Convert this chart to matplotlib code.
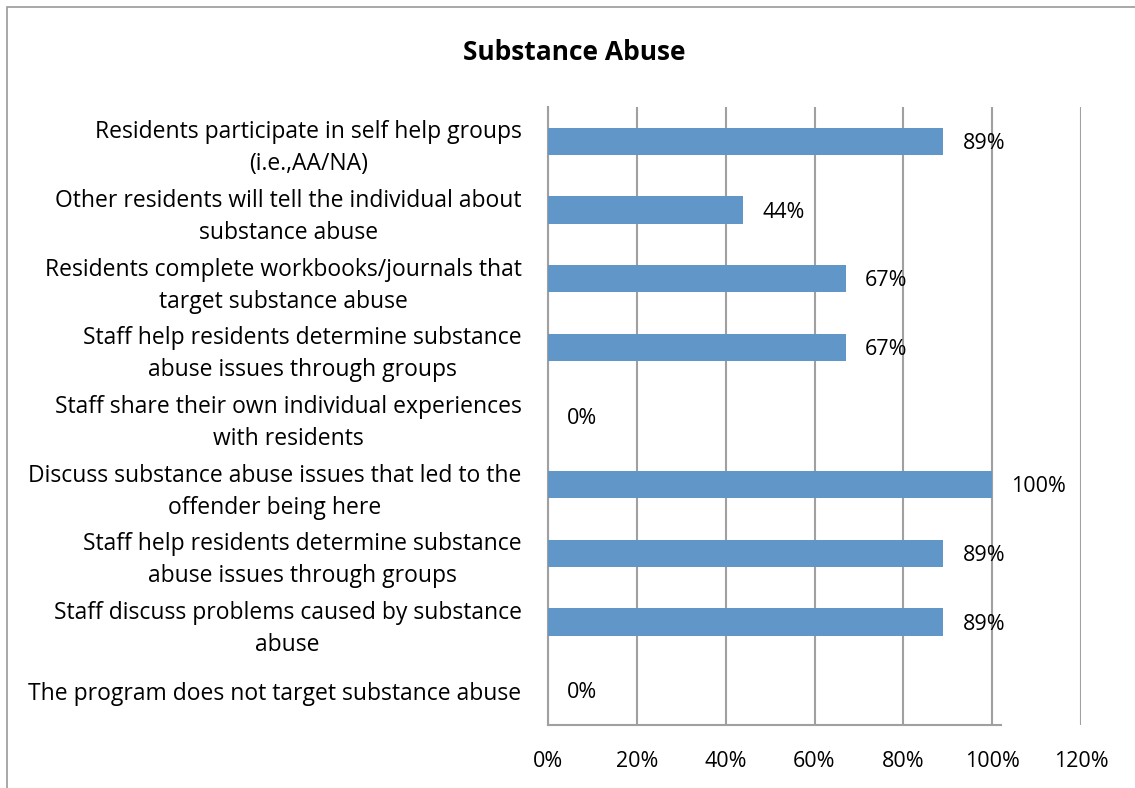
import matplotlib
matplotlib.use("Agg")
import matplotlib.pyplot as plt
from matplotlib.patches import Rectangle

# データ（上から順）
categories = [
    "Residents participate in self help groups\n(i.e.,AA/NA)",
    "Other residents will tell the individual about\nsubstance abuse",
    "Residents complete workbooks/journals that\ntarget substance abuse",
    "Staff help residents determine substance\nabuse issues through groups",
    "Staff share their own individual experiences\nwith residents",
    "Discuss substance abuse issues that led to the\noffender being here",
    "Staff help residents determine substance\nabuse issues through groups",
    "Staff discuss problems caused by substance\nabuse",
    "The program does not target substance abuse",
]
values = [89, 44, 67, 67, 0, 100, 89, 89, 0]
x_ticks = [0, 20, 40, 60, 80, 100, 120]
x_tick_labels = ["0%", "20%", "40%", "60%", "80%", "100%", "120%"]

plt.rcParams["font.family"] = ["Open Sans", "DejaVu Sans"]

W, H = 1135, 788
fig = plt.figure(figsize=(W / 100, H / 100), dpi=100)
ax = fig.add_axes([548 / W, 1 - 725 / H, (1081 - 548) / W, (725 - 107) / H])

y = list(range(len(categories)))
ax.barh(y, values, height=0.4, color="#6196c9", edgecolor="none", zorder=3)
for yi, v in zip(y, values):
    ax.text(v + 4.3, yi + 0.03, f"{v}%", va="center", ha="left", fontsize=15.5,
            color="black", zorder=4)

ax.set_xlim(0, 120)
ax.set_ylim(len(categories) - 0.5, -0.5)
ax.set_xticks(x_ticks)
ax.set_xticklabels(x_tick_labels, fontsize=15.5)
ax.set_yticks(y)
ax.set_yticklabels(categories, fontsize=16.5, ha="right", multialignment="center",
                   linespacing=1.45)
ax.tick_params(axis="both", length=0)
ax.tick_params(axis="x", pad=19)
ax.tick_params(axis="y", pad=19)

ax.xaxis.grid(True, color="#a0a0a0", linewidth=1.5, zorder=1)
for s in ["top", "right"]:
    ax.spines[s].set_visible(False)
ax.spines["left"].set_color("#a0a0a0")
ax.spines["left"].set_linewidth(1.5)
ax.spines["bottom"].set_color("#a0a0a0")
ax.spines["bottom"].set_linewidth(1.5)
ax.spines["bottom"].set_bounds(0, 102)

fig.text(574 / W, 1 - 53 / H, "Substance Abuse", ha="center", va="center",
         fontsize=19, fontweight="bold")

# 外枠
fig.patches.append(Rectangle((7 / W, -0.1), 1.2, 1 - 7 / H + 0.1, transform=fig.transFigure,
                             fill=False, edgecolor="#9a9a9a", linewidth=1.2, clip_on=False))

fig.savefig("out.png", dpi=100)
